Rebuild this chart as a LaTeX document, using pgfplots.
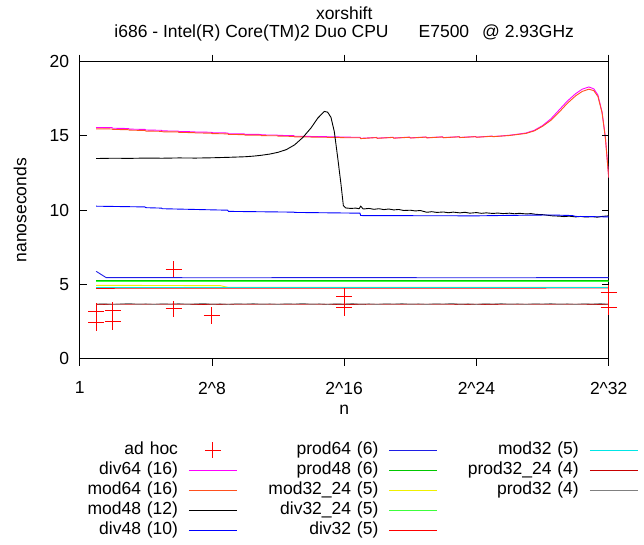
\documentclass[border=0pt]{standalone}
\usepackage{pgfplots}
\pgfplotsset{compat=1.18}
\usepackage{fontspec}
\setmainfont{Liberation Sans}
\definecolor{cAdhoc}{RGB}{255,0,0}
\definecolor{cDivSF}{RGB}{255,0,255}
\definecolor{cModSF}{RGB}{255,80,30}
\definecolor{cModFE}{RGB}{0,0,0}
\definecolor{cDivFE}{RGB}{0,0,255}
\definecolor{cProdSF}{RGB}{30,30,230}
\definecolor{cProdFE}{RGB}{0,200,0}
\definecolor{cModTT}{RGB}{240,240,0}
\definecolor{cDivTT}{RGB}{60,255,60}
\definecolor{cDivT}{RGB}{255,0,0}
\definecolor{cModT}{RGB}{0,230,230}
\definecolor{cProdTT}{RGB}{200,0,0}
\definecolor{cProdT}{RGB}{128,128,128}
\pgfplotsset{
  linelegend/.style={legend image code/.code={\draw[##1] (0pt,0pt) -- (48pt,0pt);}},
  marklegend/.style={legend image code/.code={\draw[##1, mark repeat=2, mark phase=2] plot coordinates {(0pt,0pt) (24pt,0pt) (48pt,0pt)};}},
  adhocstyle/.style={color=cAdhoc, only marks, mark=+, mark size=8pt, mark options={draw=cAdhoc, line width=1pt}},
}
\begin{document}
\begin{tikzpicture}[font=\fontsize{17.5}{21}\selectfont]
\path[use as bounding box] (-79.7pt,-186.3pt) rectangle (564.3pt,358.7pt);
\begin{axis}[
  at={(0pt,0pt)}, anchor=south west,
  scale only axis, width=529pt, height=297pt,
  xmin=0, xmax=32, ymin=0, ymax=20,
  xtick={0,8,16,24,32},
  xticklabels={1,2\textasciicircum 8,2\textasciicircum 16,2\textasciicircum 24,2\textasciicircum 32},
  ytick={0,5,10,15,20},
  /pgf/number format/assume math mode=true,
  tick align=outside, major tick length=7pt,
  tick style={black, line width=0.9pt},
  ytick style={draw=none},
  axis line style={line width=0.9pt},
  xticklabel style={inner sep=0pt, yshift=-16pt},
  yticklabel style={inner sep=0pt, xshift=-3.4pt},
  xlabel={n},
  xlabel style={at={(axis description cs:0.5,0)}, anchor=center, yshift=-51pt},
  ylabel={nanoseconds},
  ylabel style={at={(axis description cs:0,0.5)}, anchor=center, yshift=59.7pt},
  every axis plot/.append style={line width=0.9pt},
  linelegend,
  legend plot pos=right,
  legend cell align=right,
  transpose legend,
  legend columns=5,
  legend style={at={(0,0)}, anchor=north west, xshift=-32.2pt, yshift=-83.3pt,
    draw=none, fill=none, inner sep=0pt, outer sep=0pt, row sep=5pt, column sep=10.5pt,
    nodes={text width=130.5pt, align=right, inner sep=0pt, text height=11.5pt, text depth=3.5pt}},
]
\addplot[adhocstyle, marklegend] coordinates {(1,3.2) (1,2.42) (2,3.25) (2,2.48) (5.68,6.03) (5.68,3.36) (8,2.93) (8,2.88) (16,4.2) (16,3.44) (32,4.43) (32,3.48)};
\addlegendentry{ad hoc}
\addplot[cDivSF] coordinates {(1,15.57) (1.95,15.56) (2,15.52) (2.95,15.5) (3,15.46) (3.95,15.44) (4,15.40) (4.95,15.38) (5,15.34) (5.95,15.33) (6,15.30) (6.95,15.28) (7,15.26) (7.95,15.25) (8,15.22) (8.95,15.20) (9,15.15) (9.95,15.14) (10,15.11) (10.95,15.10) (11,15.07) (11.95,15.06) (12,15.04) (12.95,15.02) (13,14.98) (13.95,14.97) (14,14.96) (14.95,14.95) (15,14.94) (15.95,14.93) (16,14.92) (16.95,14.91) (17,14.84) (17.95,14.9) (18,14.85) (18.95,14.91) (19,14.86) (19.95,14.92) (20,14.87) (20.95,14.93) (21,14.88) (21.95,14.94) (22,14.89) (22.95,14.95) (23,14.9) (23.95,14.96) (24,14.92) (24.95,14.99) (25,14.96) (25.5,15.0) (26,15.05) (26.5,15.12) (27,15.2) (27.5,15.38) (28,15.7) (28.5,16.15) (29,16.75) (29.5,17.35) (30,17.85) (30.4,18.15) (30.8,18.3) (31.1,18.17) (31.35,17.75) (31.6,16.6) (31.8,14.9) (32,12.2)};
\addlegendentry{div64 (16)}
\addplot[cModSF] coordinates {(1,15.48) (1.95,15.47) (2,15.44) (2.95,15.42) (3,15.39) (3.95,15.37) (4,15.33) (4.95,15.31) (5,15.28) (5.95,15.27) (6,15.24) (6.95,15.22) (7,15.2) (7.95,15.19) (8,15.16) (8.95,15.14) (9,15.1) (9.95,15.09) (10,15.06) (10.95,15.05) (11,15.02) (11.95,15.01) (12,14.99) (12.95,14.97) (13,14.94) (13.95,14.93) (14,14.92) (14.95,14.91) (15,14.9) (15.95,14.89) (16,14.88) (16.95,14.88) (17,14.82) (17.95,14.89) (18,14.84) (18.95,14.9) (19,14.85) (19.95,14.91) (20,14.86) (20.95,14.92) (21,14.87) (21.95,14.93) (22,14.88) (22.95,14.94) (23,14.89) (23.95,14.95) (24,14.91) (24.95,14.98) (25,14.95) (25.5,14.99) (26,15.03) (26.5,15.1) (27,15.17) (27.5,15.34) (28,15.65) (28.5,16.05) (29,16.6) (29.5,17.2) (30,17.7) (30.4,18.0) (30.8,18.15) (31.1,18.05) (31.35,17.65) (31.6,16.55) (31.8,14.85) (32,12.2)};
\addlegendentry{mod64 (16)}
\addplot[cModFE] coordinates {(1,13.48) (2,13.5) (3,13.49) (4,13.51) (5,13.5) (6,13.52) (7,13.51) (8,13.53) (9,13.56) (10,13.6) (10.5,13.64) (11,13.7) (11.5,13.78) (12,13.9) (12.5,14.08) (13,14.4) (13.5,14.9) (14,15.55) (14.4,16.2) (14.8,16.65) (15,16.6) (15.2,16.25) (15.4,15.3) (15.6,13.6) (15.8,11.8) (15.95,10.3) (16.1,10.15) (16.4,10.12) (16.7,10.14) (16.9,10.1) (17,10.27) (17.15,10.08) (17.5,10.12) (17.8,10.06) (18.1,10.1) (18.4,10.04) (18.7,10.08) (19,10.02) (19.3,10.05) (19.6,9.98) (20,10.0) (20.3,9.95) (20.6,9.98) (21,9.86) (21.3,9.9) (21.6,9.85) (22,9.88) (22.3,9.83) (22.6,9.87) (23,9.82) (23.3,9.86) (23.6,9.8) (24,9.84) (24.3,9.79) (24.6,9.82) (25,9.78) (25.3,9.81) (25.6,9.77) (26,9.8) (26.3,9.76) (26.6,9.79) (27,9.75) (27.3,9.77) (27.6,9.72) (28,9.7) (28.3,9.66) (28.6,9.62) (29,9.6) (29.3,9.57) (29.6,9.6) (30,9.55) (30.3,9.58) (30.6,9.54) (31,9.57) (31.3,9.53) (31.6,9.58) (32,9.62)};
\addlegendentry{mod48 (12)}
\addplot[cDivFE] coordinates {(1,10.27) (3.95,10.22) (4,10.17) (4.95,10.14) (5,10.1) (8.95,10.0) (9,9.92) (12.95,9.87) (13,9.85) (16.95,9.8) (17,9.64) (20,9.63) (24,9.62) (26,9.65) (28.5,9.68) (29.8,9.64) (30,9.58) (32,9.55)};
\addlegendentry{div48 (10)}
\addplot[cProdSF] coordinates {(1,5.88) (1.6,5.46) (4,5.46) (8,5.45) (16,5.46) (24,5.45) (32,5.46)};
\addlegendentry{prod64 (6)}
\addplot[cProdFE] coordinates {(1,5.26) (32,5.26)};
\addlegendentry{prod48 (6)}
\addplot[cModTT] coordinates {(1,4.94) (8.5,4.92) (9,4.8) (32,4.8)};
\addlegendentry{mod32\_24 (5)}
\addplot[cDivTT] coordinates {(1,5.21) (32,5.21)};
\addlegendentry{div32\_24 (5)}
\addplot[cDivT] coordinates {(1,4.74) (32,4.76)};
\addlegendentry{div32 (5)}
\addplot[cModT] coordinates {(1,4.83) (32,4.83)};
\addlegendentry{mod32 (5)}
\addplot[cProdTT] coordinates {(1,3.66) (4,3.67) (8,3.66) (12,3.67) (16,3.66) (20,3.67) (24,3.66) (28,3.67) (32,3.66)};
\addlegendentry{prod32\_24 (4)}
\addplot[cProdT] coordinates {(1,3.68) (1.5,3.70) (2,3.66) (2.5,3.69) (3,3.72) (3.5,3.67) (4,3.69) (4.5,3.66) (5,3.70) (5.5,3.68) (6,3.71) (6.5,3.67) (7,3.69) (7.5,3.72) (8,3.67) (8.5,3.69) (9,3.66) (9.5,3.70) (10,3.68) (10.5,3.71) (11,3.67) (11.5,3.69) (12,3.66) (12.5,3.70) (13,3.68) (13.5,3.72) (14,3.67) (14.5,3.69) (15,3.66) (15.5,3.70) (16,3.68) (16.5,3.71) (17,3.67) (17.5,3.69) (18,3.66) (18.5,3.70) (19,3.68) (19.5,3.71) (20,3.67) (20.5,3.69) (21,3.66) (21.5,3.70) (22,3.68) (22.5,3.72) (23,3.67) (23.5,3.69) (24,3.66) (24.5,3.70) (25,3.68) (25.5,3.71) (26,3.67) (26.5,3.69) (27,3.66) (27.5,3.70) (28,3.68) (28.5,3.71) (29,3.67) (29.5,3.69) (30,3.66) (30.5,3.70) (31,3.68) (31.5,3.71) (32,3.67)};
\addlegendentry{prod32 (4)}
\addlegendimage{empty legend}
\addlegendentry{}
\addlegendimage{empty legend}
\addlegendentry{}
\draw[black, line width=0.9pt] (axis cs:0,5) -- ++(7pt,0pt);
\draw[black, line width=0.9pt] (axis cs:0,10) -- ++(7pt,0pt);
\draw[black, line width=0.9pt] (axis cs:0,15) -- ++(7pt,0pt);
\draw[black, line width=0.9pt] (axis cs:32,5) -- ++(-7pt,0pt);
\draw[black, line width=0.9pt] (axis cs:32,10) -- ++(-7pt,0pt);
\draw[black, line width=0.9pt] (axis cs:32,15) -- ++(-7pt,0pt);
\end{axis}
\node[anchor=base] at (264.5pt,339pt) {xorshift};
\node[anchor=base] at (264.5pt,320.7pt) {i686 - Intel(R) Core(TM)2 Duo CPU\hspace{30pt}E7500\hspace{13pt}@ 2.93GHz};
\end{tikzpicture}
\end{document}
